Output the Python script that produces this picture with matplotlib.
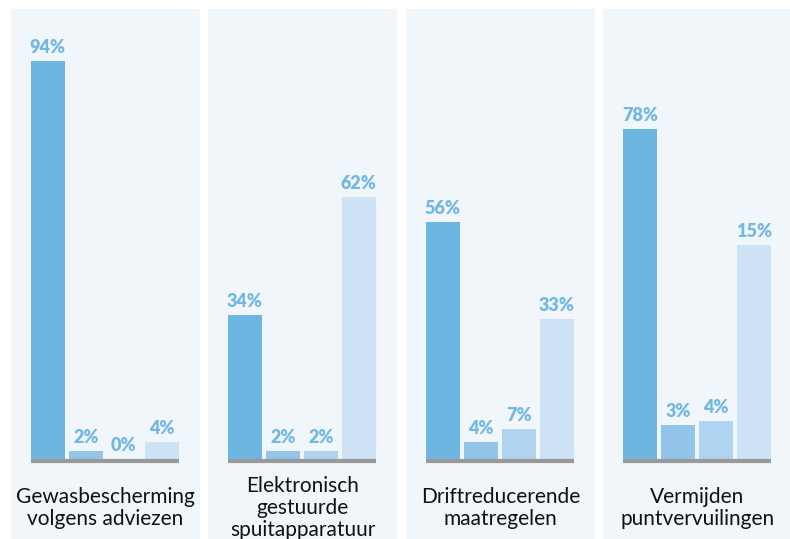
import numpy as np
import matplotlib.pyplot as plt

# data
categories = ['Gewasbescherming\nvolgens adviezen',
              'Elektronisch\ngestuurde\nspuitapparatuur',
              'Driftreducerende\nmaatregelen',
              'Vermijden\npuntvervuilingen']
# bar heights as drawn (%)
heights = [[94, 2, 0, 4],
           [34, 2, 2, 62],
           [56, 4, 7, 33],
           [78, 8, 9, 50.5]]
# value labels as printed
value_labels = [['94%', '2%', '0%', '4%'],
                ['34%', '2%', '2%', '62%'],
                ['56%', '4%', '7%', '33%'],
                ['78%', '3%', '4%', '15%']]

bar_colors = ['#6db6e2', '#93c5ea', '#b0d4ef', '#cde2f5']
panel_bg = '#f1f6fb'
label_color = '#72b8e2'
base_color = '#999999'

W, H = 790, 539
fig = plt.figure(figsize=(W / 100, H / 100), dpi=100)

panel_left = [11, 208, 406, 603]
panel_w = 189
top, bottom = 9, 539
px_per_unit = 4.23
base_px = 459

x = np.arange(4)
for i in range(4):
    ax = fig.add_axes([panel_left[i] / W, (H - bottom) / H, panel_w / W, (bottom - top) / H])
    ax.set_facecolor(panel_bg)
    for s in ax.spines.values():
        s.set_visible(False)
    ax.set_xticks([])
    ax.set_yticks([])
    ax.set_xlim(-0.97, -0.97 + panel_w / 38)
    ax.set_ylim(-(bottom - base_px) / px_per_unit, (base_px - top) / px_per_unit)

    ax.bar(x, heights[i], width=0.9, color=bar_colors, zorder=2)
    ax.hlines(-0.45, -0.45, 3.45, color=base_color, lw=3, zorder=3)
    for j in range(4):
        ax.text(x[j], heights[i][j] + 1.9, value_labels[i][j], ha='center', va='baseline',
                color=label_color, fontsize=13, fontweight='heavy', family='Lato')

    ax.text(0.5, 31 / (bottom - top), categories[i], transform=ax.transAxes,
            ha='center', va='center', fontsize=15, family='Lato', color='#111111',
            linespacing=1.1)

fig.savefig('out.png', dpi=100)
